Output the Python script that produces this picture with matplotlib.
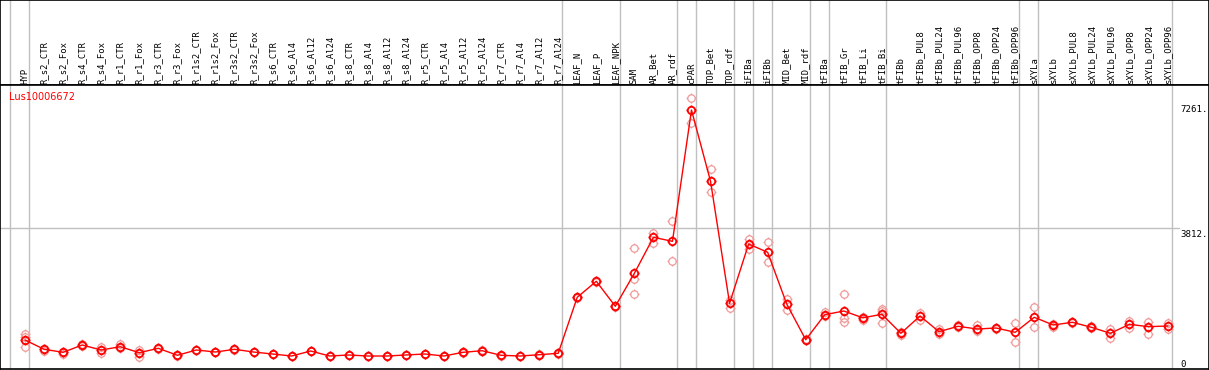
import numpy as np
import matplotlib
matplotlib.use("Agg")
import matplotlib.pyplot as plt
from matplotlib.path import Path

# sample names in display order
samples = ["HYP",
           "R_s2_CTR", "R_s2_Fox", "R_s4_CTR", "R_s4_Fox", "R_r1_CTR", "R_r1_Fox",
           "R_r3_CTR", "R_r3_Fox", "R_r1s2_CTR", "R_r1s2_Fox", "R_r3s2_CTR", "R_r3s2_Fox",
           "R_s6_CTR", "R_s6_Al4", "R_s6_Al12", "R_s6_Al24", "R_s8_CTR", "R_s8_Al4",
           "R_s8_Al12", "R_s8_Al24", "R_r5_CTR", "R_r5_Al4", "R_r5_Al12", "R_r5_Al24",
           "R_r7_CTR", "R_r7_Al4", "R_r7_Al12", "R_r7_Al24",
           "LEAF_N", "LEAF_P", "LEAF_NPK", "SAM", "AR_Bet", "AR_rdf", "cPAR",
           "TOP_Bet", "TOP_rdf", "iFIBa", "iFIBb", "MID_Bet", "MID_rdf",
           "tFIBa", "tFIB_Gr", "tFIB_Li", "tFIB_Bi",
           "tFIBb", "tFIBb_PUL8", "tFIBb_PUL24", "tFIBb_PUL96", "tFIBb_OPP8",
           "tFIBb_OPP24", "tFIBb_OPP96",
           "sXYLa", "sXYLb", "sXYLb_PUL8", "sXYLb_PUL24", "sXYLb_PUL96",
           "sXYLb_OPP8", "sXYLb_OPP24", "sXYLb_OPP96"]

# mean expression
means = [535,
         263, 175, 389, 243, 339, 164, 292, 88, 243, 184, 263, 184,
         126, 67, 213, 67, 97, 67, 67, 97, 126, 67, 175, 222,
         88, 67, 105, 146,
         1784, 2252, 1521, 2486, 3538, 3421, 7261,
         5176, 1608, 3342, 3100, 1588, 544,
         1275, 1383, 1184, 1287,
         731, 1237, 778, 936, 857, 886, 760,
         1199, 974, 1053, 907, 731, 994, 924, 945]

# replicate values
reps = [[702, 623, 322],
        [272, 213], [193, 117], [409, 360], [339, 146], [418, 310], [243, 47],
        [301, 272], [97, 67], [255, 230], [195, 170], [275, 250], [195, 172],
        [135, 115], [75, 60], [222, 205], [75, 60], [105, 88], [75, 60],
        [75, 60], [105, 88], [135, 115], [75, 60], [185, 165], [232, 212],
        [97, 80], [75, 60], [112, 97], [155, 138],
        [1800, 1770], [2265, 2240], [1535, 1505], [3217, 2319, 1872],
        [3664, 3372], [4006, 2837], [7603, 6890],
        [5527, 4854], [1705, 1480], [3489, 3187], [3392, 2807], [1734, 1412], [564, 521],
        [1354, 1237], [1872, 1170, 1062], [1120, 1208], [1442, 1023, 1369],
        [681, 769], [1333, 1120], [857, 711], [965, 915], [983, 798], [895, 848], [1023, 468],
        [1491, 907], [924, 1003], [1070, 1032], [930, 886], [866, 602],
        [1100, 895], [1070, 711], [1041, 848]]

# group separators (after these sample indices)
group_ends = [-1, 0, 28, 31, 34, 35, 37, 38, 39, 41, 42, 45, 52, 53, 60]

axis_ticks = [7261, 3812, 0]
gene_id = "Lus10006672"

grey = "#c0c0c0"
red = "#ff0000"
pink = "#f09a9a"

# circle with four small outer ticks
circ = Path.unit_circle()
ticks = Path([(0, 1), (0, 1.35), (0, -1), (0, -1.35), (1, 0), (1.35, 0), (-1, 0), (-1.35, 0)],
             [Path.MOVETO, Path.LINETO] * 4)
marker = Path.make_compound_path(circ, ticks)

W, H = 1209, 370
fig = plt.figure(figsize=(W / 100, H / 100), dpi=100)

x = np.arange(len(samples))
xlim = ((1 - 26) / 19.01, (1208 - 26) / 19.01)


def py(p):
    # pixel row -> value
    return (358.3 - p) * 29.243


ax_top = fig.add_axes([0, (H - 85) / H, 1, 85 / H])
ax = fig.add_axes([0, (H - 369) / H, 1, 284 / H])

for a in (ax_top, ax):
    a.set_xlim(*xlim)
    a.set_xticks([])
    a.set_yticks([])
    for s in a.spines.values():
        s.set_color("black")
        s.set_linewidth(1.2)
    for g in group_ends:
        a.axvline(g + 0.22, color=grey, lw=1.0, zorder=0)

ax_top.set_ylim(85, 0)
for i, name in enumerate(samples):
    ax_top.text(i, 83.5, name, rotation=90, ha="center", va="bottom",
                family="DejaVu Sans Mono", fontsize=6.4)

ax.set_ylim(py(369), py(85))
ax.plot([xlim[0], 60.6], [axis_ticks[1]] * 2, color=grey, lw=1.0, zorder=0)

for i, r in enumerate(reps):
    ax.plot([i] * len(r), r, linestyle="none", marker=marker, markersize=7.2,
            markerfacecolor="none", markeredgecolor=pink, markeredgewidth=0.9, zorder=2)

ax.plot(x, means, color=red, lw=1.0, zorder=3)
ax.plot(x, means, linestyle="none", marker=marker, markersize=7.2,
        markerfacecolor="none", markeredgecolor=red, markeredgewidth=1.3, zorder=4)

label_top = [105, 230, 360]
for v, t in zip(axis_ticks, label_top):
    ax.text((1179 - 26) / 19.01, py(t), str(v) + ("." if v else ""), ha="left", va="top",
            family="DejaVu Sans Mono", fontsize=6.6)

ax.text((10 - 26) / 19.01, py(97), gene_id, color=red, ha="left", va="center",
        fontsize=7)

fig.savefig("out.png", dpi=100)
